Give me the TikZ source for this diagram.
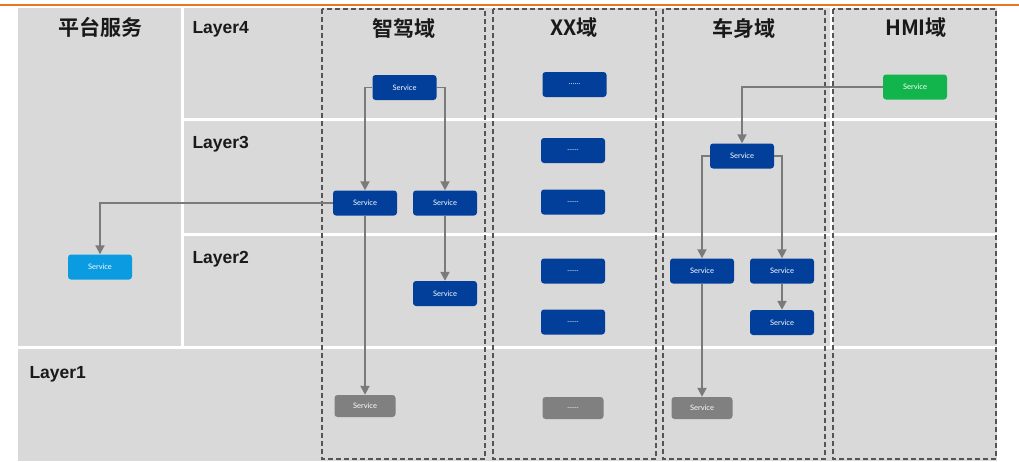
\documentclass[tikz,border=0pt]{standalone}
\usepackage{fontspec}
\setmainfont{Liberation Sans}
\newfontfamily\cjkb{Noto Sans CJK SC}[BoldFont={Noto Sans CJK SC Bold}]
\newfontfamily\svcfont{Lato}
\usetikzlibrary{arrows.meta}
\definecolor{cellgray}{HTML}{D9D9D9}
\definecolor{darkblue}{HTML}{023F9B}
\definecolor{lightblue}{HTML}{0A9BE0}
\definecolor{svcgreen}{HTML}{12B54C}
\definecolor{svcgray}{HTML}{808080}
\definecolor{arrowgray}{HTML}{7A7A7A}
\definecolor{dashgray}{HTML}{555555}
\definecolor{topline}{HTML}{E87722}
\tikzset{
  cell/.style={fill=cellgray, draw=none},
  domainbox/.style={draw=dashgray, line width=1.4pt, dash pattern=on 5pt off 3pt},
  svc/.style={rounded corners=3pt, minimum width=64pt, minimum height=25pt, inner sep=0pt,
    text=white, font=\svcfont\fontsize{7.5}{8}\selectfont},
  blue/.style={svc, fill=darkblue},
  gsvc/.style={svc, fill=svcgray, minimum width=61pt, minimum height=22pt},
  lblue/.style={svc, fill=lightblue},
  green/.style={svc, fill=svcgreen},
  layerlbl/.style={anchor=west, font=\bfseries\fontsize{17.5}{19}\selectfont, text=black!90},
  title/.style={font=\cjkb\bfseries\fontsize{21}{23}\selectfont, text=black!90},
  conn/.style={draw=arrowgray, line width=1.9pt, -{Triangle[length=9pt,width=9pt]}},
}
\begin{document}
\begin{tikzpicture}[x=1pt,y=-1pt]
\useasboundingbox (0,0) rectangle (1019,461);
\fill[white] (0,0) rectangle (1019,461);
\draw[topline, line width=2pt] (0,5) -- (1019,5);
% grid cells
\fill[cell] (18,8) rectangle (181,346);
\fill[cell] (184,8) rectangle (830,118);
\fill[cell] (833,8) rectangle (997,118);
\fill[cell] (184,121) rectangle (830,233);
\fill[cell] (833,121) rectangle (997,233);
\fill[cell] (184,236) rectangle (830,346);
\fill[cell] (833,236) rectangle (997,346);
\fill[cell] (18,349) rectangle (997,461);
% domain boxes
\draw[domainbox] (322,9) rectangle (485,459);
\draw[domainbox] (493,9) rectangle (656,459);
\draw[domainbox] (663,9) rectangle (825,459);
\draw[domainbox] (833,9) rectangle (996,459);
% titles
\node[title] (tp) at (100,27) {平台服务};
\node[title] (tz) at (404,28) {智驾域};
\node[title] (tx) at (574,28) {XX域};
\node[title] (tc) at (744,28) {车身域};
\node[title] (th) at (916,28) {HMI域};
\node[layerlbl] (l4) at (189,29) {Layer4};
\node[layerlbl] (l3) at (189,144) {Layer3};
\node[layerlbl] (l2) at (189,259) {Layer2};
\node[layerlbl] (l1) at (26,374) {Layer1};
% services
\node[blue] (s1) at (404.5,87.5) {Service};
\node[blue] (s2) at (365,203) {Service};
\node[blue] (s3) at (445,203) {Service};
\node[blue] (s4) at (445,293.5) {Service};
\node[gsvc] (s5) at (365,406) {Service};
\node[blue] (x1) at (574.5,84.5) {……};
\node[blue] (x2) at (573,150.5) {……};
\node[blue] (x3) at (573,202) {……};
\node[blue] (x4) at (573,271) {……};
\node[blue] (x5) at (573,322) {……};
\node[gsvc] (x6) at (573,408) {……};
\node[blue] (b1) at (742,156) {Service};
\node[blue] (b2) at (702,271) {Service};
\node[blue] (b3) at (782,271) {Service};
\node[blue] (b4) at (782,322.5) {Service};
\node[gsvc] (b5) at (702,408) {Service};
\node[green] (h1) at (915,87) {Service};
\node[lblue] (p1) at (100,267) {Service};
% connectors
\draw[conn] (s1.west) -| (s2.north);
\draw[conn] (s1.east) -| (s3.north);
\draw[conn] (s2.west) -| (p1.north);
\draw[conn] (s2.south) -- (s5.north);
\draw[conn] (s3.south) -- (s4.north);
\draw[conn] (h1.west) -| (b1.north);
\draw[conn] (b1.west) -| (b2.north);
\draw[conn] (b1.east) -| (b3.north);
\draw[conn] (b2.south) -- (b5.north);
\draw[conn] (b3.south) -- (b4.north);
\end{tikzpicture}
\end{document}
